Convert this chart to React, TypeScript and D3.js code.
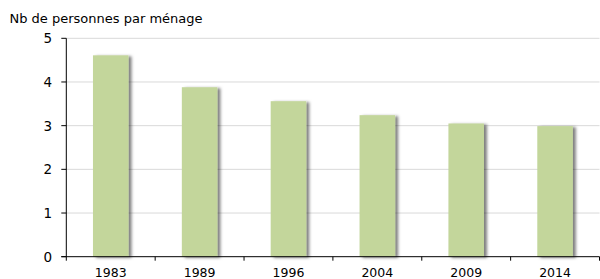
import React from "react";
import * as d3 from "d3";

const categories = ["1983", "1989", "1996", "2004", "2009", "2014"];
const values = [4.61, 3.88, 3.56, 3.24, 3.05, 2.99];
const yTicks = [0, 1, 2, 3, 4, 5];
const title = "Nb de personnes par ménage";

export default function App() {
  const W = 600, H = 279;
  const left = 66.3, right = 599.5, top = 38.3, bottom = 256.7;
  const x = d3.scaleBand<string>().domain(categories).range([left, right]).paddingInner(0).paddingOuter(0);
  const y = d3.scaleLinear().domain([0, 5]).range([bottom, top]);
  const bw = x.bandwidth() * 0.4;
  const font = "'DejaVu Sans', Verdana, sans-serif";
  return (
    <svg width={W} height={H} style={{ position: "absolute", left: 0, top: 0 }}>
      <defs>
        <filter id="sh" x="-20%" y="-10%" width="160%" height="130%">
          <feDropShadow dx="3" dy="1" stdDeviation="1.5" floodColor="#000" floodOpacity="0.5" />
        </filter>
      </defs>
      <text x={9.5} y={22.5} fontFamily={font} fontSize={13} fill="#000">{title}</text>
      {yTicks.filter(t => t > 0).map(t => (
        <line key={"g" + t} x1={left} x2={right} y1={y(t)} y2={y(t)} stroke="#d9d9d9" strokeWidth={1} />
      ))}
      {categories.map((c, i) => (
        <rect key={c} x={(x(c) as number) + (x.bandwidth() - bw) / 2} y={y(values[i])} width={bw}
          height={bottom - y(values[i])} fill="#c3d69b" filter="url(#sh)" />
      ))}
      <line x1={left} x2={left} y1={top} y2={bottom} stroke="#000" strokeWidth={1} />
      {yTicks.map(t => (
        <g key={"y" + t}>
          <line x1={left - 5} x2={left} y1={y(t)} y2={y(t)} stroke="#000" />
          <text x={52} y={y(t)} dy="0.36em" textAnchor="end" fontFamily={font} fontSize={13.5} fill="#000">{t}</text>
        </g>
      ))}
      <line x1={left - 5} x2={right} y1={bottom} y2={bottom} stroke="#000" strokeWidth={1} />
      {[...categories.map(c => x(c) as number), right].map((p, i) => (
        <line key={"xt" + i} x1={p} x2={p} y1={bottom} y2={bottom + 4} stroke="#000" />
      ))}
      {categories.map(c => (
        <text key={"xl" + c} x={(x(c) as number) + x.bandwidth() / 2} y={276.5} textAnchor="middle"
          fontFamily={font} fontSize={12.5} fill="#000">{c}</text>
      ))}
    </svg>
  );
}
